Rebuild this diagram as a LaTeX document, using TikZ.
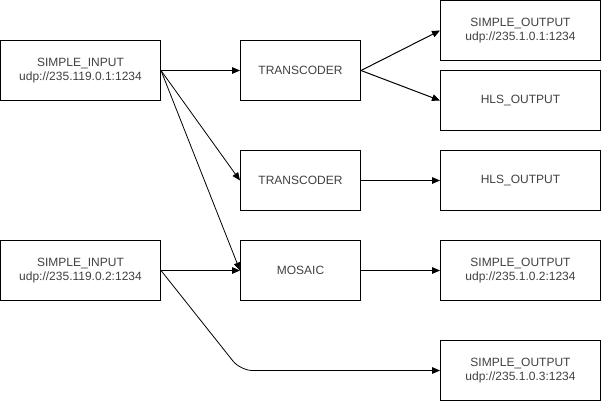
\documentclass[tikz,border=0pt]{standalone}
\usepackage{fontspec}
\setmainfont{Liberation Sans}
\usetikzlibrary{arrows.meta}

\begin{document}
\begin{tikzpicture}[x=0.75pt, y=-0.75pt, >={Triangle[length=6pt, width=5pt]},
    every node/.style={font=\fontsize{9}{10.5}\selectfont, text=black!75, align=center},
    box/.style={draw, line width=0.75pt, minimum height=45pt},
    wide/.style={box, minimum width=120pt},
    narrow/.style={box, minimum width=90pt}]
    \useasboundingbox (-0.5, -0.5) rectangle (600.5, 400.5);
    \node [wide] (in1) at (80, 70) {SIMPLE\_INPUT\\udp://235.119.0.1:1234};
    \node [wide] (in2) at (80, 270) {SIMPLE\_INPUT\\udp://235.119.0.2:1234};
    \node [narrow] (tr1) at (300, 70) {TRANSCODER};
    \node [narrow] (tr2) at (300, 180) {TRANSCODER};
    \node [narrow] (mos) at (300, 270) {MOSAIC};
    \node [wide] (out1) at (520, 30) {SIMPLE\_OUTPUT\\udp://235.1.0.1:1234};
    \node [wide] (hls1) at (520, 100) {HLS\_OUTPUT};
    \node [wide] (hls2) at (520, 180) {HLS\_OUTPUT};
    \node [wide] (out2) at (520, 270) {SIMPLE\_OUTPUT\\udp://235.1.0.2:1234};
    \node [wide] (out3) at (520, 370) {SIMPLE\_OUTPUT\\udp://235.1.0.3:1234};
    \coordinate (bend) at (240, 370);

    \draw [->, line width=0.75pt] (in1.east) to (tr1.west);
    \draw [->, line width=0.6pt] (in1.east) to (tr2.west);
    \draw [->, line width=0.6pt] (in1.east) to (mos.west);
    \draw [->, line width=0.75pt] (in2.east) to (mos.west);
    \draw [->, line width=0.6pt, rounded corners=9pt] (in2.east) -- (bend) -- (out3.west);
    \draw [->, line width=0.75pt] (tr1.east) to (out1.west);
    \draw [->, line width=0.75pt] (tr1.east) to (hls1.west);
    \draw [->, line width=0.75pt] (tr2.east) to (hls2.west);
    \draw [->, line width=0.75pt] (mos.east) to (out2.west);
  \end{tikzpicture}
\end{document}
